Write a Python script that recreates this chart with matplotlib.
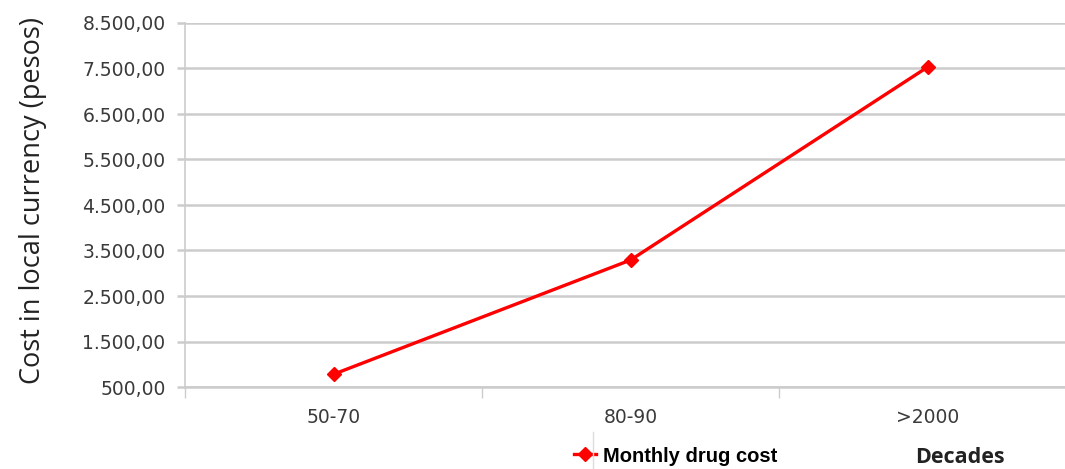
import matplotlib
matplotlib.use("Agg")
import matplotlib.pyplot as plt
from matplotlib.ticker import FuncFormatter, FixedLocator

# monthly drug cost per decade
decades = ["50-70", "80-90", ">2000"]
monthly_cost = [780, 3290, 7530]
y_ticks = [500, 1500, 2500, 3500, 4500, 5500, 6500, 7500, 8500]

GRID = "#cccccc"
TXT = "#3a3a3a"


def es_format(v, pos=None):
    # 8500 -> "8.500,00"
    s = f"{v:,.2f}"
    return s.replace(",", "X").replace(".", ",").replace("X", ".")


fig = plt.figure(figsize=(10.65, 4.69), dpi=100)
ax = fig.add_axes([185 / 1065, 1 - 387 / 469, 891 / 1065, (387 - 23) / 469])

x = list(range(len(decades)))
ax.plot(x, monthly_cost, color="#ff0000", lw=2.4, marker="D", ms=7,
        mec="#ff0000", mfc="#ff0000", zorder=3, clip_on=False)

ax.set_ylim(500, 8500)
ax.set_xlim(-0.5, 2.5)
ax.set_yticks(y_ticks)
ax.yaxis.set_major_formatter(FuncFormatter(es_format))
ax.grid(axis="y", color=GRID, lw=1.8)
ax.set_axisbelow(True)

ax.set_xticks(x)
ax.set_xticklabels(decades)
ax.xaxis.set_minor_locator(FixedLocator([-0.5, 0.5, 1.5]))
ax.tick_params(axis="x", which="major", length=0, pad=15, labelsize=13.5, labelcolor=TXT)
ax.tick_params(axis="x", which="minor", length=8, width=1, color=GRID)
ax.tick_params(axis="y", length=6, width=1.8, color=GRID, pad=8,
               labelsize=13.5, labelcolor=TXT)

for side in ["top", "right"]:
    ax.spines[side].set_visible(False)
ax.spines["left"].set_color(GRID)
ax.spines["left"].set_linewidth(1.2)
ax.spines["bottom"].set_color(GRID)
ax.spines["bottom"].set_linewidth(1.8)

fig.text(33 / 1065, 1 - 200 / 469, "Cost in local currency (pesos)", rotation=90,
         ha="center", va="center", fontsize=19.5, family="Open Sans", color="#222222")

ax.legend(["Monthly drug cost"], loc="center left", frameon=False,
          bbox_to_anchor=(556 / 1065, 1 - 456 / 469), bbox_transform=fig.transFigure,
          handlelength=1.1, handletextpad=0.35,
          prop={"family": "Liberation Sans", "weight": "bold", "size": 14.5})
fig.add_artist(plt.Line2D([593 / 1065, 593 / 1065], [0, 1 - 432 / 469],
                          color="#dddddd", lw=1))

fig.text(960 / 1065, 1 - 457 / 469, "Decades", ha="center", va="center",
         fontsize=15.5, fontweight="bold", family="Open Sans", color="#222222")

fig.savefig("out.png", dpi=100)
